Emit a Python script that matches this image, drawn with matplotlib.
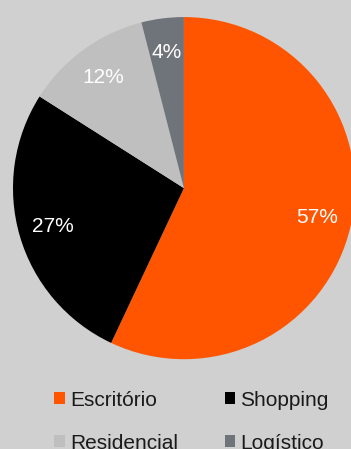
import matplotlib.pyplot as plt
from matplotlib.patches import Patch

plt.rcParams['font.family'] = ['Liberation Sans', 'DejaVu Sans']

categorias = ["Escritório", "Shopping", "Residencial", "Logístico"]
percentuais = [57, 27, 12, 4]
cores = ["#ff5500", "#000000", "#bfbfbf", "#6f737a"]

fundo = "#d0d0d0"

fig = plt.figure(figsize=(3.51, 4.49), dpi=100, facecolor=fundo)
# pie axes: centre ~ (184, 188) px, radius ~171 px
ax = fig.add_axes([0.037, 0.2, 0.974, 0.762])
ax.set_facecolor(fundo)

wedges, texts, autotexts = ax.pie(
    percentuais, colors=cores, startangle=90, counterclock=False,
    autopct="%d%%", pctdistance=0.8, radius=1,
    textprops={"color": "white", "fontsize": 15},
    wedgeprops={"linewidth": 0},
)
ax.set_xlim(-1, 1)
ax.set_ylim(-1, 1)
ax.set_aspect("auto")
ax.axis("off")

# legend fills column by column, so reorder to read row by row
ordem = [0, 2, 1, 3]
handles = [Patch(facecolor=cores[i], edgecolor="none") for i in ordem]
rotulos = [categorias[i] for i in ordem]
fig.legend(handles, rotulos, ncol=2, loc="upper left",
           bbox_to_anchor=(0.155, 0.13), frameon=False, fontsize=15,
           handlelength=0.5, handleheight=0.5, handletextpad=0.25,
           columnspacing=2.25, labelspacing=1.15, labelcolor="#1a1a1a",
           borderaxespad=0, borderpad=0)

fig.savefig("out.png", dpi=100, facecolor=fundo)
